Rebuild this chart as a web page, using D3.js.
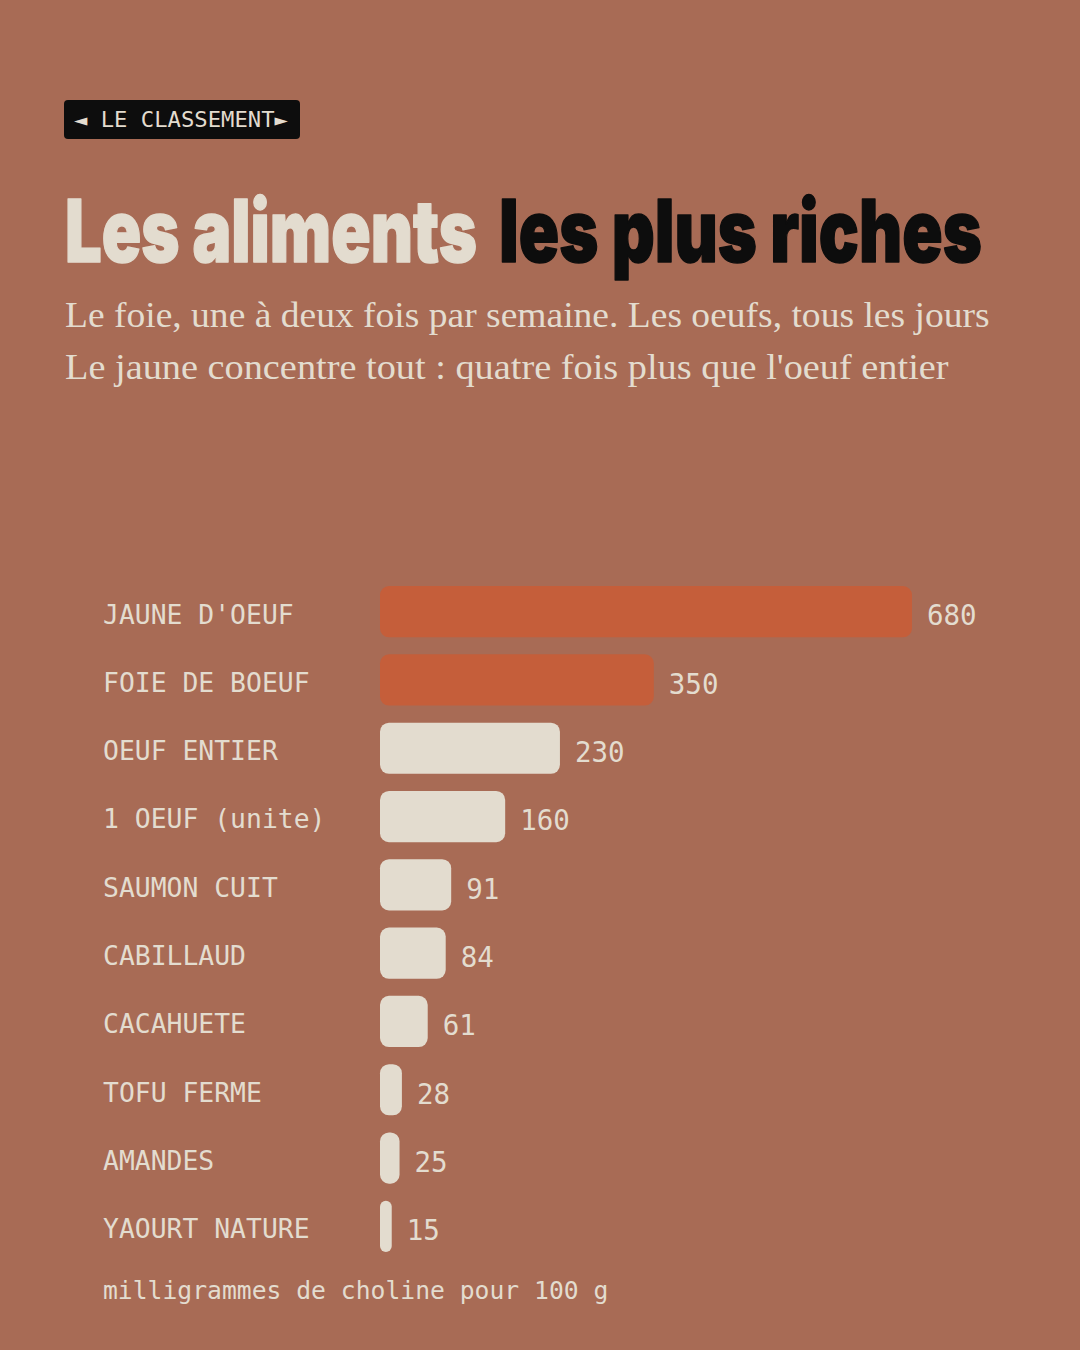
<!DOCTYPE html>
<html><head><meta charset="utf-8">
<script src="https://cdn.jsdelivr.net/npm/d3@7"></script>
<style>html,body{margin:0;padding:0;background:#a86b55;}svg{display:block;}</style>
</head><body>
<svg id="c" width="1080" height="1350"></svg>
<script>
const categories = ["JAUNE D'OEUF","FOIE DE BOEUF","OEUF ENTIER","1 OEUF (unite)","SAUMON CUIT","CABILLAUD","CACAHUETE","TOFU FERME","AMANDES","YAOURT NATURE"];
const values = [680,350,230,160,91,84,61,28,25,15];
const highlighted = ["JAUNE D'OEUF","FOIE DE BOEUF"];
const tagText = "◄ LE CLASSEMENT►";
const titleLight = "Les aliments";
const titleDark = "les plus riches";
const subtitleLines = ["Le foie, une à deux fois par semaine. Les oeufs, tous les jours","Le jaune concentre tout : quatre fois plus que l'oeuf entier"];
const unitNote = "milligrammes de choline pour 100 g";

const BG="#a86b55", LIGHT="#e3dccf", DARK="#0d0d0d", ORANGE="#c55e3a";
const svg = d3.select("#c");
svg.append("rect").attr("width",1080).attr("height",1350).attr("fill",BG);

// fit text horizontally to a target width using a transform
function fitText(sel, x0, y0, w){
  const n = sel.node().getComputedTextLength();
  sel.attr("x",0).attr("y",0).attr("transform",`translate(${x0},${y0}) scale(${w/n},1)`);
  return sel;
}

// tag
svg.append("rect").attr("x",64).attr("y",100).attr("width",236).attr("height",39).attr("rx",4).attr("fill",DARK);
fitText(svg.append("text").attr("font-family","DejaVu Sans Mono").attr("font-size",21)
  .attr("fill",LIGHT).text(tagText),74,127,214);

// title
const tf = "Inter,'Liberation Sans',sans-serif";
[[titleLight,65,412,LIGHT],[titleDark,499,483,DARK]].forEach(([t,x0,w,col])=>{
  const s = svg.append("text").attr("font-family",tf).attr("font-weight",900).attr("font-size",86)
    .attr("fill",col).attr("stroke",col).attr("stroke-width",1.5).attr("stroke-linejoin","round").text(t);
  fitText(s,x0,262,w);
});

// subtitle
const subW=[925,884];
subtitleLines.forEach((s,i)=>{
  fitText(svg.append("text").attr("font-family","'Liberation Serif',serif").attr("font-size",35)
    .attr("fill",LIGHT).text(s),65,327+i*52,subW[i]);
});

// chart
const x = d3.scaleLinear().domain([0,680]).range([380,912]);
const y = d3.scaleBand().domain(categories).range([577.5,1260.5]).paddingInner(0.25).paddingOuter(0.125);
const g = svg.append("g");
categories.forEach((c,i)=>{
  const w = x(values[i])-x(0), h=y.bandwidth();
  const r = Math.min(9, w/2);
  g.append("rect").attr("x",x(0)).attr("y",y(c)).attr("width",w).attr("height",h).attr("rx",r).attr("ry",r)
    .attr("fill",highlighted.includes(c)?ORANGE:LIGHT);
  g.append("text").attr("x",103).attr("y",y(c)+h/2).attr("dy","0.45em").attr("font-family","DejaVu Sans Mono")
    .attr("font-size",26.4).attr("fill",LIGHT).text(c);
  g.append("text").attr("x",x(values[i])+15).attr("y",y(c)+h/2).attr("dy","0.5em").attr("font-family","DejaVu Sans Mono")
    .attr("font-size",27.5).attr("fill",LIGHT).text(values[i]);
});
svg.append("text").attr("x",103).attr("y",1299).attr("font-family","DejaVu Sans Mono").attr("font-size",24.7)
  .attr("fill",LIGHT).text(unitNote);
</script>
</body></html>
